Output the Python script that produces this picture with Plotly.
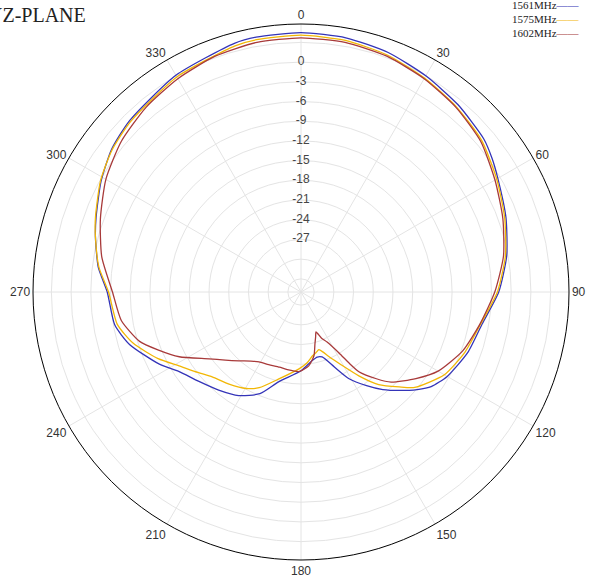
import plotly.graph_objects as go

# ---- data (dB values) ----
theta_1561 = [0, 10, 20, 30, 40, 50, 55, 60, 70, 80, 90, 100, 110, 120, 126, 130, 135, 140, 145, 151,
              156, 162, 166, 171, 180, 194, 202, 211, 220, 229, 237, 243, 253, 260, 270, 277, 285, 290,
              299, 307, 315, 330, 345, 350]
gain_1561 = [4.5, 4.3, 3.8, 3.0, 2.2, 1.3, 0.5, -0.4, -1.8, -3.2, -4.9, -7.0, -8.0, -9.3, -10.5, -11.9,
             -13.8, -15.6, -17.6, -19.9, -22.5, -24.6, -24.8, -24.4, -23.0, -20.9, -18.3, -16.6, -15.5,
             -14.3, -12.8, -10.8, -7.7, -6.2, -5.5, -3.9, -2.6, -1.8, -0.2, 1.1, 1.9, 3.1, 4.2, 4.4]

theta_1575 = [0, 10, 20, 30, 40, 50, 60, 70, 80, 90, 100, 110, 120, 130, 134, 140, 145.4, 151, 156.7,
              160, 162.8, 166, 170, 175, 181.5, 194, 203.6, 209.6, 218, 226.3, 232, 238.8, 245, 253,
              260, 270, 277, 285, 290, 299, 307, 315, 330, 345, 350]
gain_1575 = [4.1, 3.9, 3.4, 2.6, 1.8, 0.9, -0.6, -2.0, -3.4, -5.1, -7.2, -8.4, -9.8, -12.4, -14.2,
             -16.6, -19.5, -22.3, -24.3, -25.3, -25.8, -25.5, -25.1, -24.2, -23.3, -21.4, -19.1, -18.1,
             -17.2, -16.3, -15.1, -13.3, -11.0, -8.3, -6.6, -5.7, -4.0, -2.6, -1.7, -0.1, 1.0, 1.7,
             2.8, 3.8, 4.0]

theta_1602 = [0, 10, 20, 30, 40, 50, 60, 70, 80, 90, 100, 110, 120, 127, 135, 139, 144, 146, 148,
              152.5, 156, 159.4, 162, 165, 168.5, 174, 181, 190, 196, 204, 211, 216, 222, 228, 234,
              242, 248, 253, 261, 270, 280, 290, 300, 310, 320, 330, 340, 350]
gain_1602 = [3.7, 3.6, 3.2, 2.5, 1.7, 0.7, -0.9, -2.3, -3.7, -5.5, -7.3, -8.8, -10.9, -13.1, -15.6,
             -17.5, -20.0, -22.0, -24.0, -26.4, -27.3, -28.5, -27.8, -26.8, -25.1, -23.7, -22.9,
             -23.0, -23.1, -22.9, -22.6, -22.0, -20.9, -19.5, -17.7, -14.0, -11.5, -9.3, -7.3, -6.3,
             -4.2, -2.5, -0.7, 0.7, 1.7, 2.5, 3.2, 3.6]

series_names = ["1561MHz", "1575MHz", "1602MHz"]
series_colors = ["#3434b8", "#f2b705", "#a83a3a"]

angle_ticks = [0, 30, 60, 90, 120, 150, 180, 210, 240, 270, 300, 330]
radial_label_vals = [0, -3, -6, -9, -12, -15, -18, -21, -24, -27]
radial_grid_vals = [-33, -30, -27, -24, -21, -18, -15, -12, -9, -6, -3, 0, 3]
radial_range = [-35, 5.8]

fig = go.Figure()

for th, g, name, col in zip([theta_1561, theta_1575, theta_1602],
                            [gain_1561, gain_1575, gain_1602],
                            series_names, series_colors):
    fig.add_trace(go.Scatterpolar(
        theta=th + [th[0]], r=g + [g[0]], mode="lines", name=name,
        line=dict(color=col, width=1.3, shape="spline", smoothing=0.6),
        showlegend=False, hoverinfo="skip"))

# radial scale labels along the 0 degree spoke
fig.add_trace(go.Scatterpolar(
    theta=[0] * len(radial_label_vals), r=radial_label_vals, mode="text",
    text=[str(v) for v in radial_label_vals],
    textfont=dict(family="Liberation Sans, Arial, sans-serif", size=12, color="#444444"),
    showlegend=False, hoverinfo="skip"))

fig.update_layout(
    width=590, height=580,
    margin=dict(l=33, r=21, t=24, b=20),
    paper_bgcolor="white",
    showlegend=False,
    polar=dict(
        bgcolor="white",
        angularaxis=dict(
            rotation=90, direction="clockwise",
            tickmode="array", tickvals=angle_ticks, ticktext=[str(a) for a in angle_ticks],
            showline=True, linecolor="black", linewidth=1,
            gridcolor="#e4e4e4", gridwidth=1, ticks="",
            tickfont=dict(family="Liberation Sans, Arial, sans-serif", size=12, color="#333333"),
        ),
        radialaxis=dict(
            range=radial_range, tickmode="array", tickvals=radial_grid_vals,
            showticklabels=False, showline=False, ticks="",
            gridcolor="#e4e4e4", gridwidth=1, angle=90,
        ),
    ),
)

# title (partly cut off at the left edge, as in the reference)
fig.add_annotation(text="YZ-PLANE", xref="paper", yref="paper", x=-0.088, y=1.041,
                   xanchor="left", yanchor="top", showarrow=False,
                   font=dict(family="Liberation Serif, serif", size=20, color="#222222"))

# legend (text followed by coloured line sample)
legend_y = [1.0354, 1.0093, 0.9832]
for name, col, ly in zip(series_names, series_colors, legend_y):
    fig.add_annotation(
        text=f"{name}<span style='color:{col}'>——</span>",
        xref="paper", yref="paper", x=1.0243, y=ly,
        xanchor="right", yanchor="middle", showarrow=False,
        font=dict(family="Liberation Serif, serif", size=11, color="#222222"))

# remove the browser's default 8px page margin so the figure fills the window
fig.write_html("out.html", config={"displayModeBar": False},
               post_script="document.body.style.margin='0';")
